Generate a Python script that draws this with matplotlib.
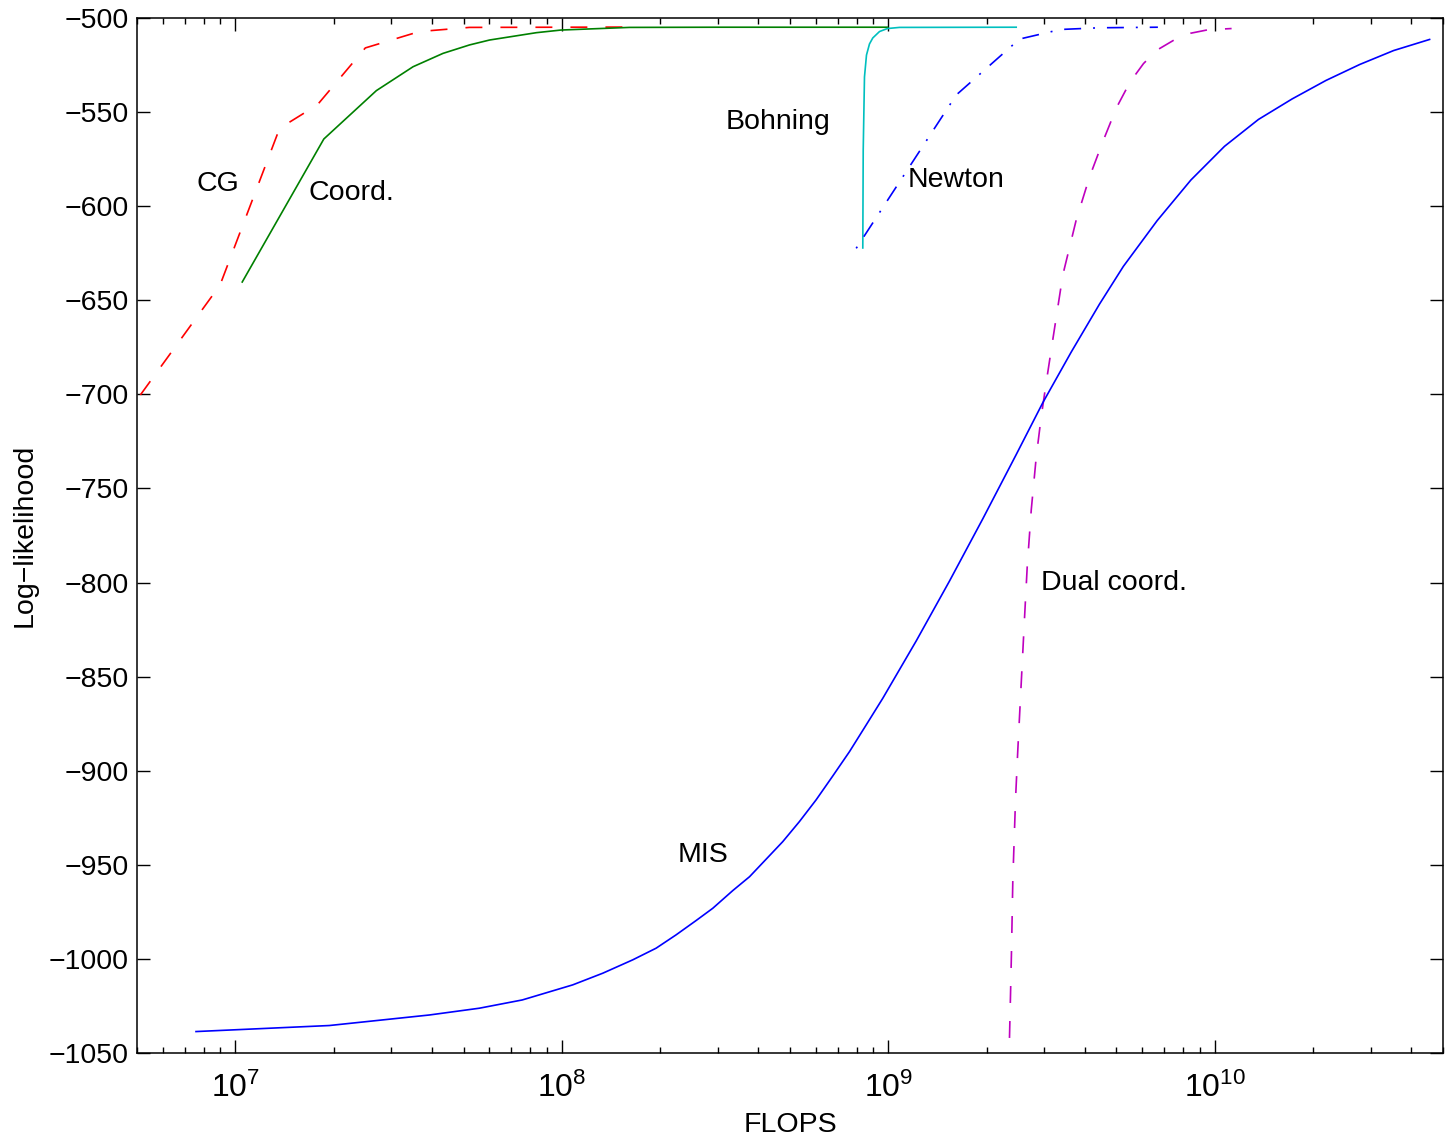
import math
import matplotlib
matplotlib.use("Agg")
import matplotlib.pyplot as plt
from matplotlib.ticker import LogLocator, FixedLocator, NullFormatter, FuncFormatter

plt.rcParams['font.family'] = ['Liberation Sans', 'DejaVu Sans']
plt.rcParams['mathtext.fontset'] = 'custom'
plt.rcParams['mathtext.rm'] = 'Liberation Sans'
plt.rcParams['mathtext.it'] = 'Liberation Sans'
plt.rcParams['mathtext.default'] = 'regular'
plt.rcParams['lines.scale_dashes'] = False

# ---- data ----
cg_x = [5.12e6, 8.98e6, 1.367e7, 1.783e7, 2.502e7, 3.662e7, 5.21e7, 1.0e8, 1.73e8]
cg_y = [-700.3, -641.9, -558.6, -546.2, -515.9, -507.2, -505.0, -504.9, -504.8]

coord_x = [1.05e7, 1.867e7, 2.704e7, 3.503e7, 4.327e7, 5.22e7, 6.01e7, 8.36e7,
           9.95e7, 1.611e8, 3.0e8, 6.0e8, 9.94e8]
coord_y = [-640.3, -564.3, -538.6, -525.9, -518.8, -514.3, -511.7, -507.8,
           -506.4, -505.0, -504.9, -504.9, -504.9]

bohning_x = [8.355e8, 8.38e8, 8.455e8, 8.575e8, 8.758e8, 8.965e8, 9.40e8, 9.94e8,
             1.082e9, 2.465e9]
bohning_y = [-622.2, -570.1, -531.3, -519.7, -513.8, -510.6, -507.2, -505.6,
             -505.0, -504.9]

newton_x = [7.975e8, 1.615e9, 2.523e9, 3.37e9, 4.436e9, 6.695e9]
newton_y = [-622.4, -540.9, -511.2, -506.1, -505.2, -504.9]

dual_x = [2.351e9, 2.368e9, 2.385e9, 2.407e9, 2.453e9, 2.493e9, 2.554e9, 2.615e9,
          2.664e9, 2.741e9, 2.839e9, 2.940e9, 3.045e9, 3.155e9, 3.424e9,
          3.764e9, 4.134e9, 4.548e9, 5.002e9, 5.502e9, 6.051e9, 6.661e9, 7.505e9,
          8.435e9, 9.506e9, 1.126e10]
dual_y = [-1042.0, -1019.1, -995.2, -958.0, -915.5, -889.0, -853.4, -818.3,
          -791.7, -761.4, -733.3, -712.0, -693.9, -676.4, -636.6,
          -607.3, -584.5, -565.4, -547.6, -534.0, -524.2, -517.0, -511.7,
          -508.1, -506.3, -505.6]

mis_x = [7.58e6, 1.94e7, 3.93e7, 5.59e7, 7.57e7, 1.08e8, 1.335e8, 1.649e8, 1.945e8,
         2.24e8, 2.579e8, 2.90e8, 3.339e8, 3.76e8, 4.226e8, 4.75e8, 5.345e8, 6.01e8,
         6.76e8, 7.61e8, 8.555e8, 9.62e8, 1.218e9, 1.540e9, 1.948e9, 2.465e9,
         2.974e9, 3.634e9, 4.437e9, 5.248e9, 6.66e9, 8.45e9, 1.071e10, 1.361e10,
         1.726e10, 2.19e10, 2.78e10, 3.53e10, 4.55e10]
mis_y = [-1038.6, -1035.4, -1029.8, -1026.2, -1021.8, -1013.8, -1007.6, -1000.5,
         -994.3, -987.2, -979.6, -973.1, -963.7, -956.3, -947.0, -937.7, -927.0,
         -915.5, -902.8, -889.8, -875.7, -861.5, -831.0, -799.2, -766.1, -732.0,
         -704.4, -677.5, -652.0, -632.0, -607.7, -586.1, -568.2, -553.9, -543.0,
         -533.2, -524.7, -517.3, -511.4]

labels = ["CG", "Coord.", "Bohning", "Newton", "Dual coord.", "MIS"]
label_x = [8.87e6, 2.267e7, 4.61e8, 1.618e9, 4.93e9, 2.716e8]
label_y = [-588.2, -593.0, -555.3, -586.1, -800.2, -944.7]

yticks = list(range(-1050, -499, 50))

# ---- figure ----
fig = plt.figure(figsize=(14.53, 11.39), dpi=100)
ax = fig.add_axes([0.0943, 0.0755, 0.8988, 0.9087])

lw = 1.2
ax.plot(cg_x, cg_y, color=(1, 0, 0), lw=lw, linestyle=(0, (12.2, 13.0)))
ax.plot(coord_x, coord_y, color=(0, 0.5, 0), lw=lw)
ax.plot(bohning_x, bohning_y, color=(0, 0.75, 0.75), lw=lw)
ax.plot(newton_x, newton_y, color=(0, 0, 1), lw=lw,
        linestyle=(20.8, (12.2, 8.6, 1.4, 8.6)))
ax.plot(dual_x, dual_y, color=(0.75, 0, 0.75), lw=lw, linestyle=(0, (12.2, 13.0)))
ax.plot(mis_x, mis_y, color=(0, 0, 1), lw=lw)

FS = 20.5
for t, x, y in zip(labels, label_x, label_y):
    ax.text(x, y, t, fontsize=FS, ha='center', va='center')

ax.set_xscale('log')
ax.set_xlim(5e6, 5e10)
ax.set_ylim(-1050, -500)
ax.yaxis.set_major_locator(FixedLocator(yticks))
ax.xaxis.set_major_locator(LogLocator(base=10, numticks=20))
ax.xaxis.set_minor_locator(LogLocator(base=10, subs=range(2, 10), numticks=100))
ax.xaxis.set_minor_formatter(NullFormatter())
ax.xaxis.set_major_formatter(FuncFormatter(
    lambda v, p: r'$\mathregular{10^{%d}}$' % round(math.log10(v))))

ax.tick_params(which='both', direction='in', top=True, right=True,
               labelsize=FS, width=1.0)
ax.tick_params(which='major', length=9.4)
ax.tick_params(which='minor', length=4.3)
ax.tick_params(axis='x', which='major', pad=14, labelsize=23)
ax.tick_params(axis='y', which='major', pad=6)
for s in ax.spines.values():
    s.set_linewidth(1.1)

ax.set_xlabel("FLOPS", fontsize=FS, labelpad=6)
ax.set_ylabel("Log\u2212likelihood", fontsize=FS, labelpad=8)

fig.savefig("out.png", dpi=100)
